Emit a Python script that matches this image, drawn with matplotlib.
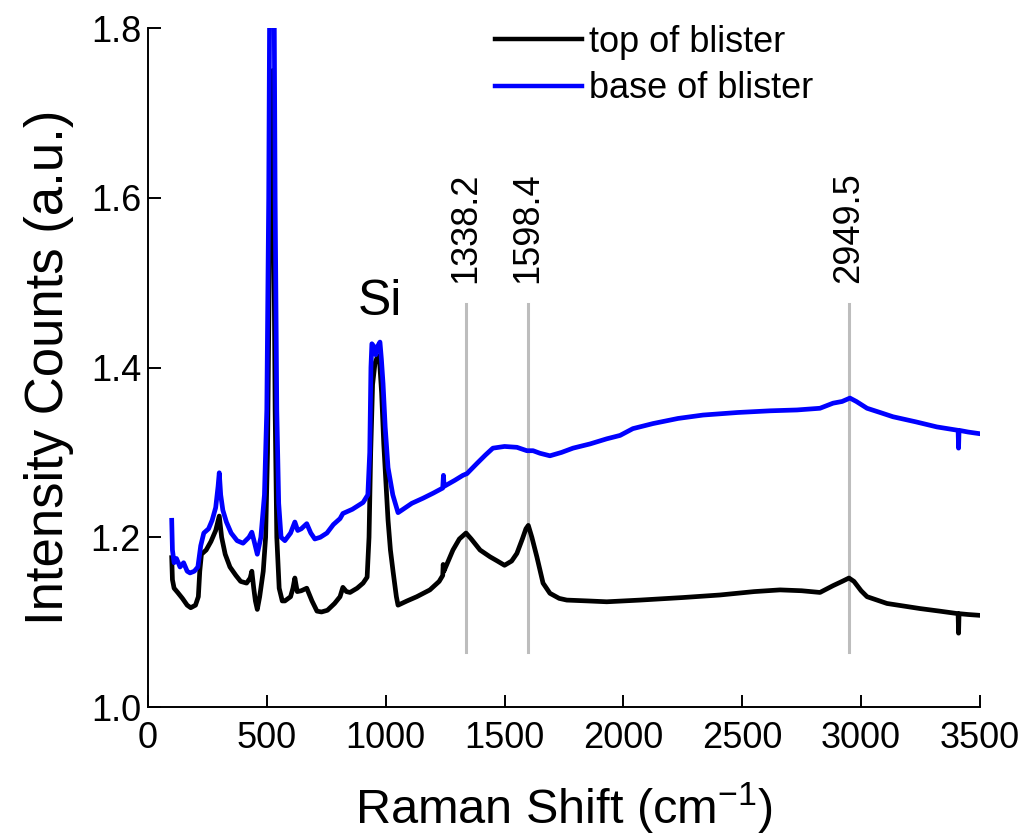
import matplotlib
matplotlib.use("Agg")
import matplotlib.pyplot as plt

plt.rcParams['font.family'] = ['Liberation Sans', 'DejaVu Sans']
plt.rcParams['mathtext.default'] = 'regular'

# ---- data ----
x_top = [100, 103, 110, 125, 145, 165, 180, 200, 212, 218, 225, 245, 265, 285, 300, 310, 325, 345, 370, 390,
         415, 430, 437, 445, 452, 460, 470, 485, 495, 503, 510, 517, 525, 530, 535, 542, 552, 565, 576, 600,
         610, 618, 628, 645, 668, 690, 711, 730, 755, 785, 808, 820, 835, 850, 880, 905, 922, 930, 937, 945,
         955, 967, 975, 983, 992, 1000, 1010, 1020, 1031, 1045, 1052, 1090, 1131, 1186, 1225, 1240, 1242, 1245,
         1283, 1310, 1338, 1360, 1397, 1439, 1470, 1500, 1530, 1552, 1575, 1590, 1600, 1615, 1636, 1662, 1691,
         1730, 1762, 1850, 1930, 2070, 2250, 2406, 2550, 2659, 2750, 2827, 2882, 2920, 2949, 2970, 3000, 3025,
         3109, 3248, 3330, 3408, 3410, 3412, 3450, 3500]
y_top = [1.176, 1.150, 1.140, 1.135, 1.128, 1.120, 1.117, 1.120, 1.130, 1.160, 1.180, 1.185, 1.195, 1.208, 1.225,
         1.200, 1.180, 1.165, 1.155, 1.148, 1.146, 1.152, 1.160, 1.140, 1.125, 1.115, 1.130, 1.160, 1.200, 1.300,
         1.500, 1.720, 1.750, 1.550, 1.350, 1.200, 1.140, 1.125, 1.125, 1.130, 1.140, 1.152, 1.136, 1.137, 1.140,
         1.125, 1.113, 1.112, 1.114, 1.122, 1.130, 1.141, 1.136, 1.135, 1.140, 1.146, 1.153, 1.200, 1.300, 1.380,
         1.405, 1.414, 1.405, 1.370, 1.310, 1.270, 1.220, 1.185, 1.160, 1.130, 1.120, 1.125, 1.130, 1.138, 1.148,
         1.155, 1.168, 1.160, 1.185, 1.198, 1.205, 1.198, 1.185, 1.177, 1.172, 1.167, 1.172, 1.181, 1.198, 1.210,
         1.214, 1.200, 1.177, 1.146, 1.134, 1.128, 1.126, 1.125, 1.124, 1.126, 1.129, 1.132, 1.136, 1.138, 1.137,
         1.135, 1.143, 1.148, 1.152, 1.148, 1.137, 1.130, 1.122, 1.116, 1.113, 1.110, 1.087, 1.110, 1.109, 1.108]

x_base = [100, 103, 110, 120, 135, 150, 165, 177, 195, 210, 222, 235, 255, 270, 285, 295, 300, 306, 315, 330,
          350, 375, 400, 425, 437, 447, 460, 475, 490, 500, 508, 515, 528, 535, 542, 550, 560, 576, 600, 618,
          630, 645, 668, 685, 702, 725, 753, 780, 808, 820, 860, 905, 925, 933, 938, 942, 950, 958, 966, 976,
          982, 989, 998, 1010, 1030, 1052, 1068, 1110, 1157, 1200, 1240, 1243, 1246, 1290, 1325, 1342, 1384,
          1420, 1451, 1500, 1552, 1594, 1620, 1649, 1691, 1740, 1788, 1860, 1930, 1986, 2040, 2125, 2230, 2335,
          2480, 2617, 2730, 2827, 2882, 2920, 2953, 2980, 3025, 3080, 3134, 3230, 3319, 3408, 3410, 3412, 3450,
          3500]
y_base = [1.220, 1.185, 1.170, 1.175, 1.165, 1.170, 1.160, 1.158, 1.160, 1.165, 1.190, 1.205, 1.210, 1.220, 1.235,
          1.260, 1.276, 1.250, 1.232, 1.218, 1.205, 1.196, 1.193, 1.200, 1.206, 1.195, 1.180, 1.200, 1.250, 1.350,
          1.600, 2.000, 2.000, 1.600, 1.350, 1.240, 1.200, 1.196, 1.205, 1.218, 1.208, 1.210, 1.216, 1.205, 1.198,
          1.200, 1.205, 1.215, 1.222, 1.228, 1.233, 1.241, 1.250, 1.300, 1.400, 1.428, 1.425, 1.415, 1.425, 1.430,
          1.410, 1.381, 1.330, 1.282, 1.250, 1.229, 1.232, 1.240, 1.246, 1.252, 1.258, 1.273, 1.260, 1.267, 1.273,
          1.275, 1.287, 1.297, 1.305, 1.307, 1.306, 1.302, 1.302, 1.299, 1.296, 1.300, 1.305, 1.310, 1.316, 1.320,
          1.328, 1.334, 1.340, 1.344, 1.347, 1.349, 1.350, 1.352, 1.358, 1.360, 1.364, 1.360, 1.352, 1.347, 1.342,
          1.336, 1.330, 1.326, 1.305, 1.326, 1.324, 1.322]

series_labels = ['top of blister', 'base of blister']
peak_positions = [1338.2, 1598.4, 2949.5]
peak_labels = ['1338.2', '1598.4', '2949.5']
x_ticks = [0, 500, 1000, 1500, 2000, 2500, 3000, 3500]
y_ticks = [1.0, 1.2, 1.4, 1.6, 1.8]

fig = plt.figure(figsize=(10.31, 8.39), dpi=100)
ax = fig.add_axes([0.1435, 0.1573, 0.807, 0.8093])

for xp in peak_positions:
    ax.plot([xp, xp], [1.065, 1.475], color='#bdbdbd', lw=2.2, zorder=1)
for xp, lab in zip(peak_positions, peak_labels):
    ax.text(xp, 1.500, lab, rotation=90, ha='center', va='bottom', fontsize=26)

ax.plot(x_top, y_top, color='black', lw=3.4, label=series_labels[0], zorder=2)
ax.plot(x_base, y_base, color='#0000ff', lw=3.4, label=series_labels[1], zorder=3)

ax.text(976, 1.462, 'Si', ha='center', va='baseline', fontsize=36)

ax.set_xlim(0, 3500)
ax.set_ylim(1.0, 1.8)
ax.set_xticks(x_ticks)
ax.set_yticks(y_ticks)
ax.set_yticklabels([f'{v:.1f}' for v in y_ticks])
ax.tick_params(direction='in', length=9, width=1.4, labelsize=26)
ax.tick_params(axis='x', pad=10)
ax.tick_params(axis='y', pad=5)
for s in ['top', 'right']:
    ax.spines[s].set_visible(False)
for s in ['left', 'bottom']:
    ax.spines[s].set_linewidth(1.4)

ax.set_xlabel(r'Raman Shift (cm$^{-1}$)', fontsize=35)
ax.xaxis.set_label_coords(0.5, -0.108)
ax.set_ylabel('Intensity Counts (a.u.)', fontsize=38, labelpad=12)

leg = ax.legend(loc='upper left', bbox_to_anchor=(0.417, 1.005), frameon=False, fontsize=26,
                handlelength=2.4, handletextpad=0.2, labelspacing=0.32, borderpad=0, borderaxespad=0)
for h in leg.get_lines():
    h.set_linewidth(3.2)

fig.savefig('out.png', dpi=100)
